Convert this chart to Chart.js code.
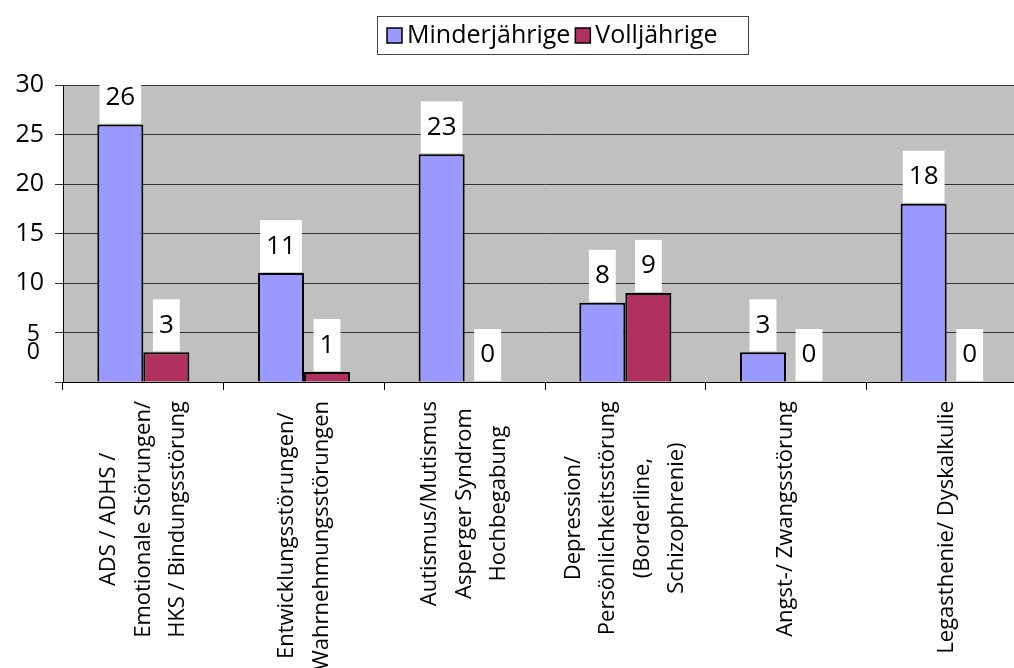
<!DOCTYPE html>
<html>
<head>
<meta charset="utf-8">
<script src="https://cdn.jsdelivr.net/npm/chart.js@4.4.0/dist/chart.umd.min.js"></script>
<style>
    html, body { margin: 0; padding: 0; background: #fff; overflow: hidden; }
    #wrap { width: 1040px; height: 668px; }
</style>
</head>
<body>
<div id="wrap"><canvas id="chart" width="1040" height="668"></canvas></div>
<script>
// Kategorien (mehrzeilig, wie im Original umbrochen)
var categories = [
    ["ADS / ADHS /", "Emotionale Störungen/", "HKS / Bindungsstörung"],
    ["Entwicklungsstörungen/", "Wahrnehmungsstörungen"],
    ["Autismus/Mutismus", "Asperger Syndrom", "Hochbegabung"],
    ["Depression/", "Persönlichkeitsstörung", "(Borderline,", "Schizophrenie)"],
    ["Angst-/ Zwangsstörung"],
    ["Legasthenie/ Dyskalkulie"]
];
var seriesNames = ["Minderjährige", "Volljährige"];
var minderjaehrige = [26, 11, 23, 8, 3, 18];
var volljaehrige = [3, 1, 0, 9, 0, 0];
var yMax = 30;
var yStep = 5;

var FONT = "'Open Sans', 'Noto Sans', sans-serif";
var colors = ['#9999ff', '#b03062'];

var plotBackground = {
    id: 'plotBackground',
    beforeDraw: function (chart) {
        var a = chart.chartArea, ctx = chart.ctx;
        ctx.save();
        ctx.fillStyle = '#c0c0c0';
        ctx.fillRect(a.left, a.top, a.right - a.left, a.bottom - a.top);
        ctx.restore();
    }
};

// weisse Kaestchen mit den Werten ueber den Balken
var valueBoxes = {
    id: 'valueBoxes',
    afterDatasetsDraw: function (chart) {
        var ctx = chart.ctx, a = chart.chartArea;
        ctx.save();
        ctx.beginPath();
        ctx.rect(a.left, a.top, a.right - a.left, a.bottom - a.top);
        ctx.clip();
        ctx.font = '26px ' + FONT;
        ctx.textAlign = 'center';
        ctx.textBaseline = 'middle';
        chart.data.datasets.forEach(function (ds, di) {
            var meta = chart.getDatasetMeta(di);
            meta.data.forEach(function (bar, i) {
                var txt = String(ds.data[i]);
                var w = ctx.measureText(txt).width + 12;
                ctx.fillStyle = '#fff';
                ctx.fillRect(bar.x - w / 2, bar.y - 53, w, 52);
                ctx.fillStyle = '#000';
                ctx.fillText(txt, bar.x, bar.y - 27);
            });
        });
        ctx.restore();
    }
};

// gedrehte, zentrierte Kategorienbeschriftung
var categoryLabels = {
    id: 'categoryLabels',
    afterDraw: function (chart) {
        var ctx = chart.ctx, xs = chart.scales.x, a = chart.chartArea;
        ctx.save();
        ctx.font = '22px ' + FONT;
        ctx.fillStyle = '#000';
        ctx.textAlign = 'center';
        ctx.textBaseline = 'middle';
        categories.forEach(function (lines, i) {
            var x = xs.getPixelForValue(i);
            var maxW = 0;
            lines.forEach(function (l) { maxW = Math.max(maxW, ctx.measureText(l).width); });
            var cy = a.bottom + 19 + maxW / 2;
            lines.forEach(function (l, j) {
                var lx = x + (j - (lines.length - 1) / 2) * 34.5;
                ctx.save();
                ctx.translate(lx, cy);
                ctx.rotate(-Math.PI / 2);
                ctx.fillText(l, 0, 0);
                ctx.restore();
            });
        });
        ctx.restore();
    }
};

// Legende mit Rahmen
var boxLegend = {
    id: 'boxLegend',
    afterDraw: function (chart) {
        var ctx = chart.ctx;
        ctx.save();
        ctx.strokeStyle = '#444';
        ctx.lineWidth = 1;
        ctx.strokeRect(377.5, 16.5, 371, 38);
        ctx.font = '25px ' + FONT;
        ctx.textBaseline = 'alphabetic';
        ctx.textAlign = 'left';
        var x = 387;
        chart.data.datasets.forEach(function (ds, i) {
            ctx.fillStyle = ds.backgroundColor;
            ctx.fillRect(x, 28, 15, 15);
            ctx.strokeStyle = '#000';
            ctx.lineWidth = 1.5;
            ctx.strokeRect(x, 28, 15, 15);
            ctx.fillStyle = '#000';
            ctx.fillText(ds.label, x + 20, 43);
            x += 20 + ctx.measureText(ds.label).width + 5;
        });
        ctx.restore();
    }
};

// "5" und die verrutschte "0" stehen im Original uebereinander
var lowTicks = {
    id: 'lowTicks',
    afterDraw: function (chart) {
        var ctx = chart.ctx, ys = chart.scales.y;
        var y5 = ys.getPixelForValue(yStep);
        ctx.save();
        ctx.font = '23px ' + FONT;
        ctx.fillStyle = '#000';
        ctx.textAlign = 'right';
        ctx.textBaseline = 'alphabetic';
        ctx.fillText(String(yStep), 40, y5 + 8);
        ctx.fillText('0', 40, y5 + 26);
        ctx.restore();
    }
};

new Chart(document.getElementById('chart').getContext('2d'), {
    type: 'bar',
    data: {
        labels: categories.map(function (c) { return c.join(' '); }),
        datasets: [{
            label: seriesNames[0],
            data: minderjaehrige,
            backgroundColor: colors[0],
            borderColor: '#000',
            borderWidth: 2,
            categoryPercentage: 0.573,
            barPercentage: 1.0
        }, {
            label: seriesNames[1],
            data: volljaehrige,
            backgroundColor: colors[1],
            borderColor: '#000',
            borderWidth: 2,
            categoryPercentage: 0.573,
            barPercentage: 1.0
        }]
    },
    options: {
        responsive: false,
        animation: false,
        devicePixelRatio: 1,
        layout: { padding: { top: 85, right: 13, left: 0, bottom: 0 } },
        plugins: {
            legend: { display: false },
            tooltip: { enabled: false }
        },
        scales: {
            x: {
                ticks: { display: false },
                grid: { offset: true, drawOnChartArea: false, tickLength: 8, color: '#000' },
                border: { color: '#000', width: 1 },
                afterFit: function (scale) { scale.height = 286; }
            },
            y: {
                min: 0,
                max: yMax,
                ticks: {
                    stepSize: yStep,
                    padding: 11,
                    color: '#000',
                    font: { family: FONT, size: 25 },
                    callback: function (v) { return (v === 0 || v === yStep) ? '' : v; }
                },
                grid: { color: '#333', tickLength: 8, lineWidth: 1 },
                border: { color: '#000', width: 1 },
                afterFit: function (scale) { scale.width = 63; }
            }
        }
    },
    plugins: [plotBackground, valueBoxes, categoryLabels, boxLegend, lowTicks]
});
</script>
</body>
</html>
